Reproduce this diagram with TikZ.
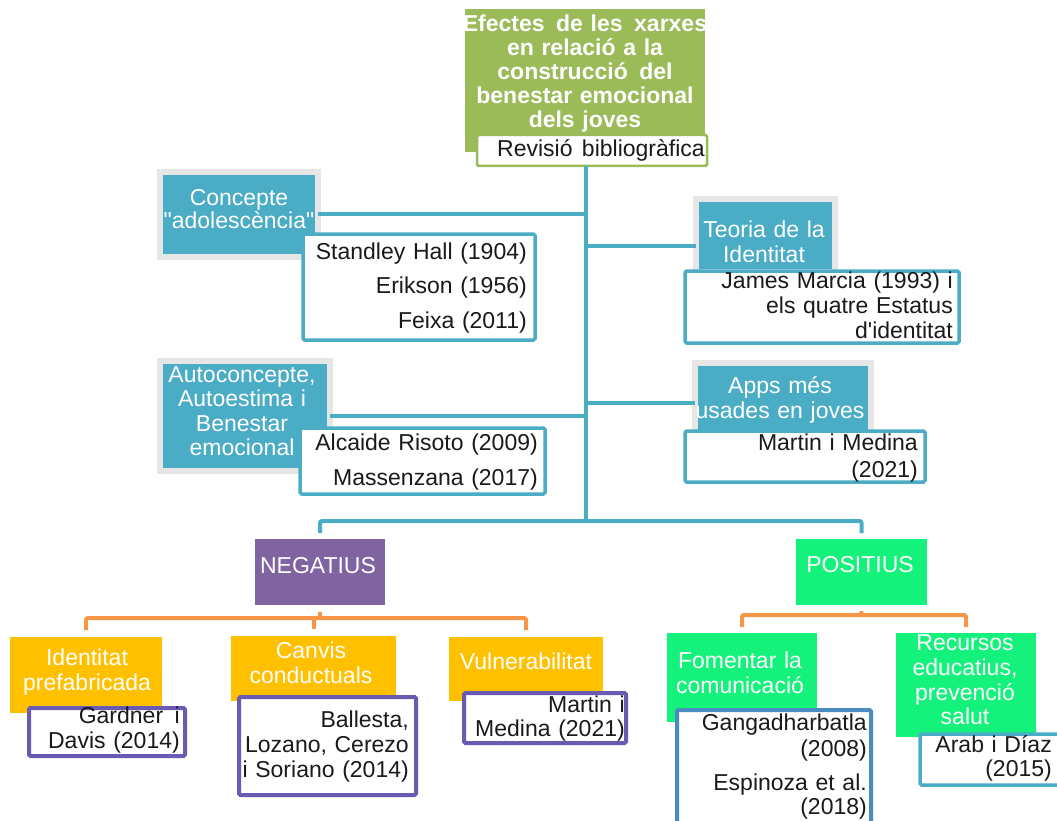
\documentclass[tikz,border=0pt]{standalone}
\usepackage{fontspec}
\setmainfont{Liberation Sans}
\newfontfamily\lsans{Liberation Sans}
\definecolor{tgreen}{HTML}{9BBB59}
\definecolor{cblue}{HTML}{4BACC6}
\definecolor{cgrey}{HTML}{E6E6E6}
\definecolor{cpurple}{HTML}{8064A2}
\definecolor{corange}{HTML}{F79646}
\definecolor{cyellow}{HTML}{FFC000}
\definecolor{cbright}{HTML}{14F27C}
\definecolor{bpurple}{HTML}{6A5AB4}
\definecolor{bsteel}{HTML}{4A8CC2}
\definecolor{ink}{HTML}{1A1A1A}
\newcommand\bodyfs{\lsans\fontsize{23}{24}\selectfont}
\begin{document}
\begin{tikzpicture}[x=1pt,y=-1pt,
  basebox/.style={anchor=north west, inner sep=0pt, outer sep=0pt},
  fillbox/.style={basebox, fill=#1, draw=none},
  hbox/.style={basebox, fill=cblue, draw=cgrey, line width=5.5pt},
  sbox/.style={basebox, fill=white, draw=#1, line width=3.5pt, rounded corners=1.5pt},
  txt/.style={inner sep=0pt, font=\bodyfs, text width=320pt},
  rtxt/.style={txt, align=right, anchor=base east, text=ink},
  ctxt/.style={txt, align=center, anchor=base, text=white},
  bline/.style={draw=cblue, line width=4pt, rounded corners=2pt},
  oline/.style={draw=corange, line width=4pt, rounded corners=2pt},
]
\useasboundingbox (0,0) rectangle (1057,821);

% ---------- title ----------
\node[fillbox=tgreen, minimum width=240pt, minimum height=143pt] (title) at (465,9) {};
\node[ctxt, font=\bodyfs\bfseries] (title-t) at (585,32)
  {Efectes\enspace de les\enspace xarxes\\en relació a la\\construcció\enspace del\\benestar emocional\\dels joves};
\node[sbox=tgreen, line width=2.5pt, minimum width=230pt, minimum height=31pt] (rev) at (477,135) {};
\node[txt, anchor=base west, text=ink, text width=] (rev-t) at (497,157) {Revisió\hspace{3pt} bibliogràfica};

% ---------- upper branches ----------
\node[hbox, minimum width=158pt, minimum height=85pt] (concepte) at (160,172) {};
\node[ctxt] (concepte-t) at (239,205) {Concepte\\[-1pt]"adolescència"};
\node[sbox=cblue, minimum width=232pt, minimum height=106pt] (standley) at (303,234) {};
\node[rtxt] (standley-t) at (527,259) {Standley Hall (1904)\\[10.5pt]Erikson (1956)\\[11pt]Feixa (2011)};

\node[hbox, minimum width=139pt, minimum height=73pt] (teoria) at (696,199) {};
\node[ctxt] (teoria-t) at (764,237) {Teoria de la\\[1pt]Identitat};
\node[sbox=cblue, minimum width=274pt, minimum height=72pt] (james) at (685,271) {};
\node[rtxt] (james-t) at (953,288) {James Marcia (1993) i\\[1pt]els quatre Estatus\\[1pt]d'identitat};

\node[hbox, minimum width=170pt, minimum height=110pt] (autoc) at (160,361) {};
\node[ctxt] (autoc-t) at (242,382) {Autoconcepte,\\Autoestima i\\[1pt]Benestar\\emocional};
\node[sbox=cblue, minimum width=245pt, minimum height=66pt] (alcaide) at (300,428) {};
\node[rtxt] (alcaide-t) at (538,450) {Alcaide Risoto (2009)\\[11pt]Massenzana (2017)};

\node[hbox, minimum width=176pt, minimum height=79pt] (apps) at (695,363) {};
\node[ctxt] (apps-t) at (780,393) {Apps més\\[1pt]usades en joves};
\node[sbox=cblue, minimum width=240pt, minimum height=51pt] (martin) at (685,431) {};
\node[rtxt] (martin-t) at (918,450) {Martin i Medina\\[3pt](2021)};

% ---------- negatius / positius ----------
\node[fillbox=cpurple, minimum width=130pt, minimum height=66pt] (neg) at (255,539) {};
\node[ctxt] (neg-t) at (318,573) {NEGATIUS};
\node[fillbox=cbright, minimum width=131pt, minimum height=66pt] (pos) at (796,539) {};
\node[ctxt] (pos-t) at (860,572) {POSITIUS};

\node[fillbox=cyellow, minimum width=152pt, minimum height=76pt] (ident) at (10,637) {};
\node[ctxt] (ident-t) at (87,665) {Identitat\\[1pt]prefabricada};
\node[sbox=bpurple, line width=4pt, minimum width=156pt, minimum height=48pt] (gardner) at (29,708) {};
\node[rtxt] (gardner-t) at (180,723) {Gardner\enspace i\\[1pt]Davis (2014)};

\node[fillbox=cyellow, minimum width=165pt, minimum height=65pt] (canvis) at (231,636) {};
\node[ctxt] (canvis-t) at (311,658) {Canvis\\[1pt]conductuals};
\node[sbox=bpurple, line width=4pt, minimum width=177pt, minimum height=98pt] (ballesta) at (239,697) {};
\node[rtxt] (ballesta-t) at (409,727) {Ballesta,\\[1pt]Lozano, Cerezo\\[1pt]i Soriano (2014)};

\node[fillbox=cyellow, minimum width=154pt, minimum height=64pt] (vuln) at (449,637) {};
\node[ctxt] (vuln-t) at (526,669) {Vulnerabilitat};
\node[sbox=bpurple, line width=4pt, minimum width=162pt, minimum height=50pt] (martin2) at (464,693) {};
\node[rtxt] (martin2-t) at (625,712) {Martin i\\Medina (2021)};

\node[fillbox=cbright, minimum width=150pt, minimum height=89pt] (foment) at (667,633) {};
\node[ctxt] (foment-t) at (740,668) {Fomentar la\\[1pt]comunicació};
\node[sbox=bsteel, line width=4pt, minimum width=194pt, minimum height=130pt] (gang) at (677,710) {};
\node[rtxt] (gang-t) at (867,730) {Gangadharbatla\\[2pt](2008)\\[10pt]Espinoza et al.\\(2018)};

\node[fillbox=cbright, minimum width=140pt, minimum height=104pt] (recur) at (896,633) {};
\node[ctxt] (recur-t) at (965,650) {Recursos\\[1pt]educatius,\\[1pt]prevenció\\salut};
\node[sbox=cblue, minimum width=150pt, minimum height=51pt] (arab) at (920,734) {};
\node[rtxt] (arab-t) at (1052,752) {Arab i Díaz\\(2015)};

% ---------- connectors ----------
\coordinate (tk) at (586,521);
\coordinate (tw) at ([yshift=-10.5pt]teoria.west);
\draw[bline] (rev.south -| tk) -- (tk);
\draw[bline] (concepte.east) -- (concepte.east -| tk);
\draw[bline] (tw) -- (tw -| tk);
\draw[bline] (autoc.east) -- (autoc.east -| tk);
\draw[bline] (apps.west) -- (apps.west -| tk);
\draw[bline, shorten <=6pt, shorten >=6pt] (neg.north) -- (neg.north |- tk) -- (pos.north |- tk) -- (pos.north);

\coordinate (nj) at (320,618);
\draw[oline] ([yshift=-7pt]neg.south) -- (nj);
\draw[oline, shorten <=7pt, shorten >=7pt] (ident.north) -- (ident.north |- nj) -- (vuln.north |- nj) -- (vuln.north);
\draw[oline, shorten >=7pt] (canvis.north |- nj) -- (canvis.north);

\coordinate (pj) at (861,615);
\draw[oline] ([yshift=-6pt]pos.south) -- (pj);
\draw[oline, shorten <=6pt, shorten >=6pt] (foment.north) -- (foment.north |- pj) -- (recur.north |- pj) -- (recur.north);
\end{tikzpicture}
\end{document}
